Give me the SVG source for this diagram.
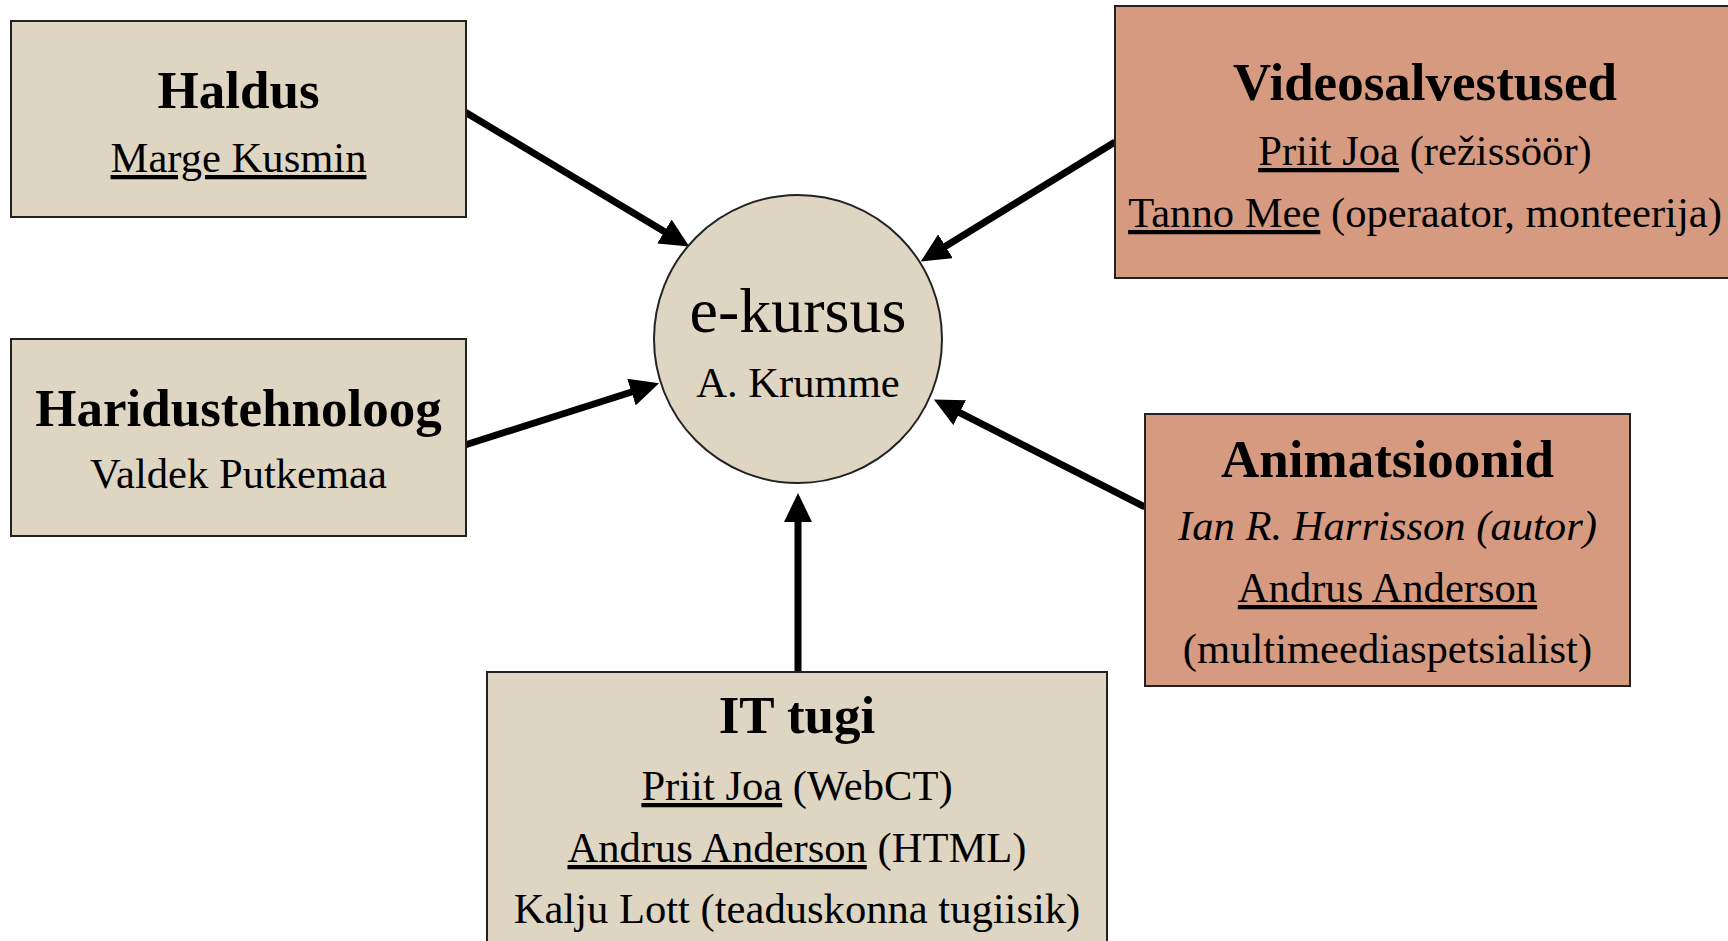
<svg xmlns="http://www.w3.org/2000/svg" width="1728" height="941" viewBox="0 0 1728 941">
<style>
.beige{fill:#DED6C3;stroke:#222;stroke-width:2}
.salmon{fill:#D69A81;stroke:#222;stroke-width:2}
text{font-family:"Liberation Serif","Times New Roman",serif;fill:#000;text-anchor:middle}
.t{font-size:53px;font-weight:bold}
.s{font-size:42.6px}
.u{text-decoration:underline}
.c{stroke:#000;stroke-width:7;fill:none;marker-end:url(#ah)}
</style>
<defs>
<marker id="ah" markerUnits="userSpaceOnUse" markerWidth="30" markerHeight="28" viewBox="0 0 30 28" refX="10" refY="14" orient="auto">
<path d="M0,0 L29,14 L0,28 z" fill="#000"/>
</marker>
</defs>
<rect width="1728" height="941" fill="#fff"/>
<g id="connectors">
<line class="c" x1="465" y1="112" x2="673" y2="236.7"/>
<line class="c" x1="465" y1="445" x2="641" y2="389"/>
<line class="c" x1="1115" y1="142" x2="937" y2="251.5"/>
<line class="c" x1="1145" y1="507" x2="950.8" y2="408.1"/>
<line class="c" x1="798" y1="672" x2="798" y2="512"/>
</g>
<g id="ekursus">
<circle class="beige" cx="798" cy="339" r="144"/>
<text x="798" y="332" style="font-size:64px">e-kursus</text>
<text class="s" x="798" y="397">A. Krumme</text>
</g>
<g id="haldus">
<rect class="beige" x="11" y="21" width="455" height="196"/>
<text class="t" x="238.5" y="108">Haldus</text>
<text class="s" x="238.5" y="172"><tspan class="u">Marge Kusmin</tspan></text>
</g>
<g id="haridustehnoloog">
<rect class="beige" x="11" y="339" width="455" height="197"/>
<text class="t" x="238.5" y="426">Haridustehnoloog</text>
<text class="s" x="238.5" y="488">Valdek Putkemaa</text>
</g>
<g id="videosalvestused">
<rect class="salmon" x="1115" y="6" width="620" height="272"/>
<text class="t" x="1425" y="100">Videosalvestused</text>
<text class="s" x="1425" y="165"><tspan class="u">Priit Joa</tspan> (režissöör)</text>
<text class="s" x="1425" y="227"><tspan class="u">Tanno Mee</tspan> (operaator, monteerija)</text>
</g>
<g id="animatsioonid">
<rect class="salmon" x="1145" y="414" width="485" height="272"/>
<text class="t" x="1387.5" y="477">Animatsioonid</text>
<text class="s" x="1387.5" y="540" font-style="italic">Ian R. Harrisson (autor)</text>
<text class="s" x="1387.5" y="602"><tspan class="u">Andrus Anderson</tspan></text>
<text class="s" x="1387.5" y="663">(multimeediaspetsialist)</text>
</g>
<g id="ittugi">
<rect class="beige" x="487" y="672" width="620" height="290"/>
<text class="t" x="797" y="733">IT tugi</text>
<text class="s" x="797" y="800"><tspan class="u">Priit Joa</tspan> (WebCT)</text>
<text class="s" x="797" y="862"><tspan class="u">Andrus Anderson</tspan> (HTML)</text>
<text class="s" x="797" y="923">Kalju Lott (teaduskonna tugiisik)</text>
</g>
</svg>
